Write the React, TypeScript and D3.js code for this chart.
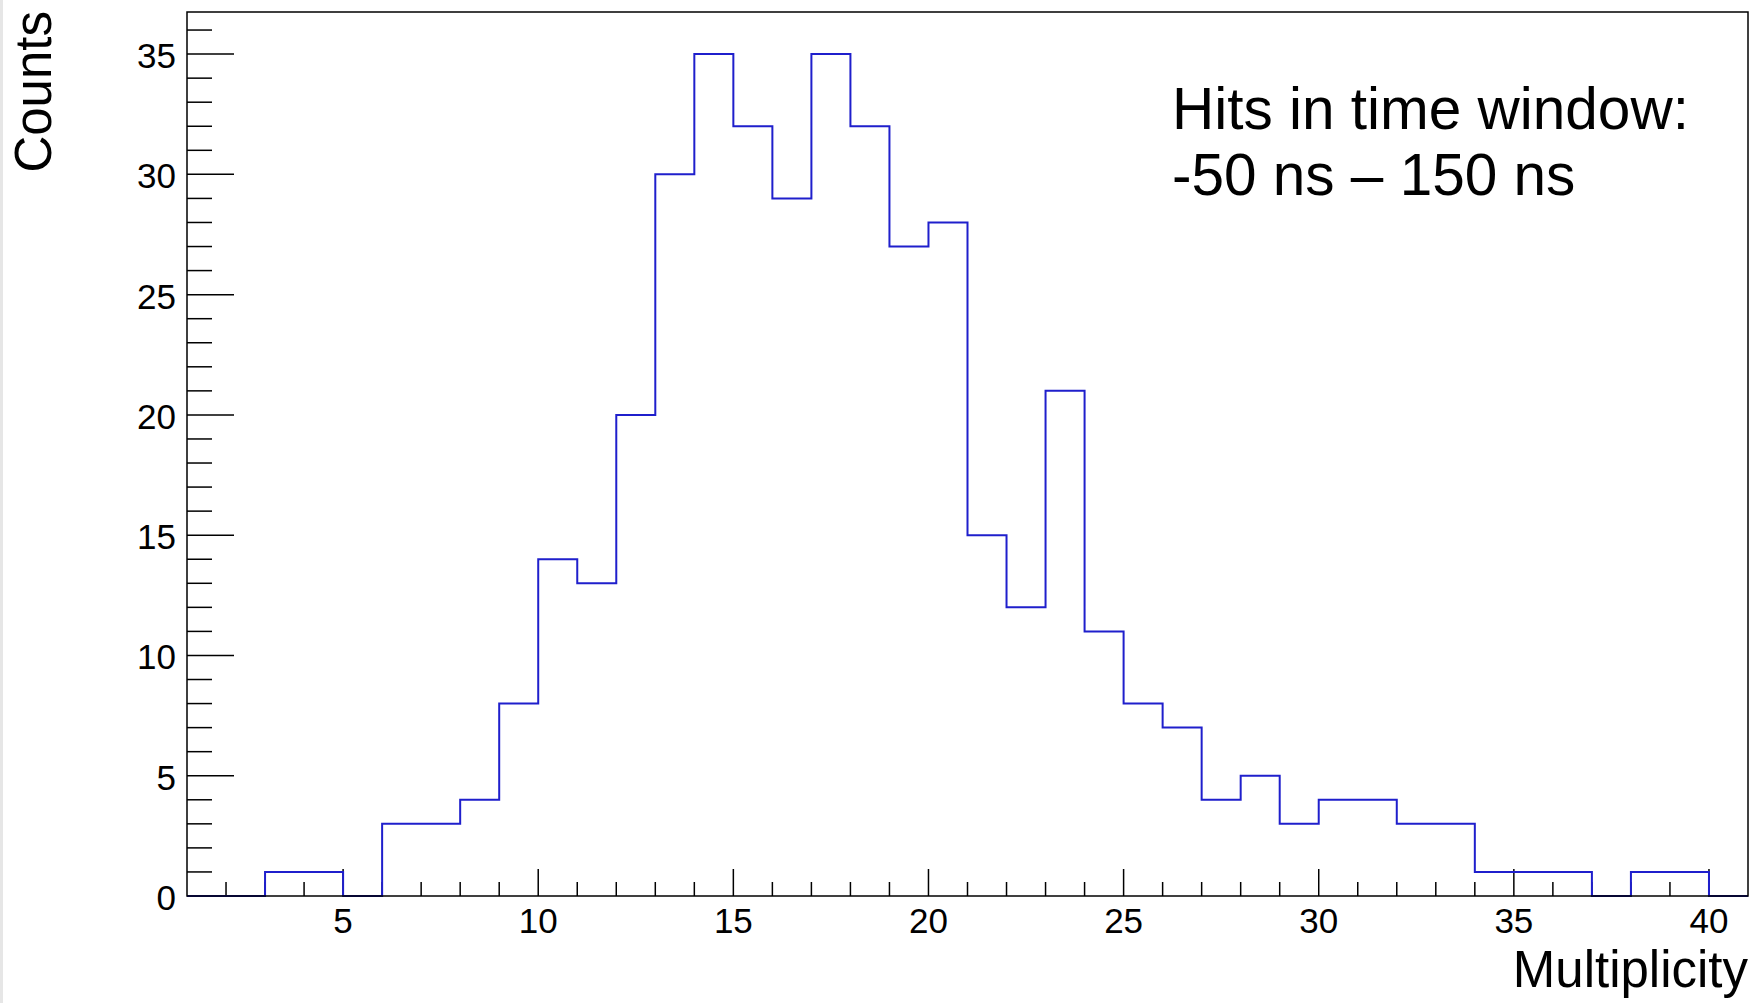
import React, { useEffect, useRef } from 'react';
import * as d3 from 'd3';

// bin lower edges (width 1) and counts per bin
const binEdges = [1, 2, 3, 4, 5, 6, 7, 8, 9, 10, 11, 12, 13, 14, 15, 16, 17, 18, 19, 20,
  21, 22, 23, 24, 25, 26, 27, 28, 29, 30, 31, 32, 33, 34, 35, 36, 37, 38, 39, 40];
const counts = [0, 0, 1, 1, 0, 3, 3, 4, 8, 14, 13, 20, 30, 35, 32, 29, 35, 32, 27, 28,
  15, 12, 21, 11, 8, 7, 4, 5, 3, 4, 4, 3, 3, 1, 1, 1, 0, 1, 1, 0];
const xTickLabels = [5, 10, 15, 20, 25, 30, 35, 40];
const yTickLabels = [0, 5, 10, 15, 20, 25, 30, 35];
const noteLines = ['Hits in time window:', '-50 ns \u2013 150 ns'];

const W = 1758;
const H = 1003;
const FONT = '"Liberation Sans", Arial, Helvetica, sans-serif';

const App = () => {
  const svgRef = useRef<SVGSVGElement>(null);

  useEffect(() => {
    const svg = d3.select(svgRef.current);
    svg.selectAll('*').remove();

    const x = d3.scaleLinear().domain([1, 41]).range([187, 1748]);
    const y = d3.scaleLinear().domain([0, 36.75]).range([896, 12]);

    // thin grey strip on the left edge of the canvas
    svg.append('rect').attr('x', 0).attr('y', 0).attr('width', 3).attr('height', H).attr('fill', '#e6e6e6');

    // minor/major ticks, drawn inward
    const xMinor = d3.range(2, 41);
    svg.append('g').selectAll('line')
      .data(xMinor)
      .join('line')
      .attr('x1', d => x(d)).attr('x2', d => x(d))
      .attr('y1', y(0))
      .attr('y2', d => y(0) - (d % 5 === 0 ? 27 : 14))
      .attr('stroke', '#000').attr('stroke-width', 1.5);

    const yMinor = d3.range(1, 37);
    svg.append('g').selectAll('line')
      .data(yMinor)
      .join('line')
      .attr('y1', d => y(d)).attr('y2', d => y(d))
      .attr('x1', x(1))
      .attr('x2', d => x(1) + (d % 5 === 0 ? 47 : 25))
      .attr('stroke', '#000').attr('stroke-width', 1.5);

    // histogram outline
    const pts: [number, number][] = binEdges.map((e, i) => [e, counts[i]]);
    pts.push([41, counts[counts.length - 1]]);
    const line = d3.line<[number, number]>()
      .x(d => x(d[0]))
      .y(d => y(d[1]))
      .curve(d3.curveStepAfter);
    svg.append('path')
      .attr('d', line(pts))
      .attr('fill', 'none')
      .attr('stroke', '#1f1fcc')
      .attr('stroke-width', 2);

    // frame
    svg.append('rect')
      .attr('x', x(1)).attr('y', y(36.75))
      .attr('width', x(41) - x(1)).attr('height', y(0) - y(36.75))
      .attr('fill', 'none').attr('stroke', '#000').attr('stroke-width', 1.5);

    // tick labels
    svg.append('g').selectAll('text')
      .data(xTickLabels)
      .join('text')
      .attr('x', d => x(d)).attr('y', 933)
      .attr('text-anchor', 'middle')
      .style('font-family', FONT).style('font-size', '35px')
      .text(d => d);

    svg.append('g').selectAll('text')
      .data(yTickLabels)
      .join('text')
      .attr('x', 176).attr('y', d => y(d) + 14)
      .attr('text-anchor', 'end')
      .style('font-family', FONT).style('font-size', '35px')
      .text(d => d);

    // axis titles
    svg.append('text')
      .attr('x', x(41)).attr('y', 987)
      .attr('text-anchor', 'end')
      .style('font-family', FONT).style('font-size', '51px')
      .text('Multiplicity');

    svg.append('text')
      .attr('transform', 'translate(51, 11) rotate(-90)')
      .attr('text-anchor', 'end')
      .style('font-family', FONT).style('font-size', '51px')
      .text('Counts');

    // annotation
    svg.append('g').selectAll('text')
      .data(noteLines)
      .join('text')
      .attr('x', 1172)
      .attr('y', (d, i) => 129 + i * 66)
      .style('font-family', FONT).style('font-size', '58.5px')
      .text(d => d);
  }, []);

  return (
    <svg
      ref={svgRef}
      width={W}
      height={H}
      style={{ position: 'absolute', left: 0, top: 0, background: '#fff' }}
    />
  );
};

export default App;
